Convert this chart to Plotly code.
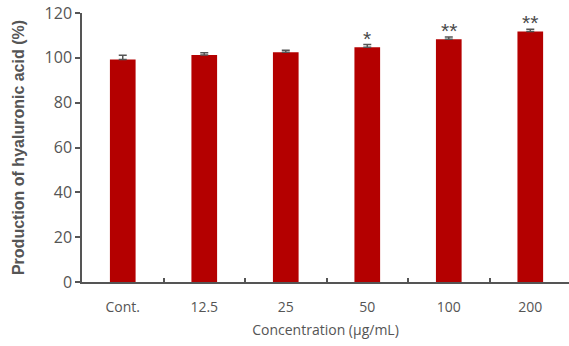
import plotly.graph_objects as go

categories = ["Cont.", "12.5", "25", "50", "100", "200"]
values = [99.3, 101.3, 102.5, 104.7, 108.3, 111.7]
errors = [1.8, 1.0, 0.9, 1.2, 1.0, 1.0]
significance = ["", "", "", "*", "**", "**"]
y_ticks = [0, 20, 40, 60, 80, 100, 120]

BAR = "#b40000"
GREY = "#555555"

fig = go.Figure()
fig.add_trace(go.Bar(
    x=categories, y=values, width=0.315,
    marker=dict(color=BAR, line=dict(width=0)),
    error_y=dict(type="data", symmetric=False, array=errors,
                 arrayminus=[0] * len(errors),
                 color=GREY, thickness=1.5, width=4),
))

for i, (v, e, s) in enumerate(zip(values, errors, significance)):
    if s:
        fig.add_annotation(x=i, y=v + e, yref="y", xref="x", text=s,
                           showarrow=False, yanchor="bottom", yshift=-7,
                           font=dict(family="Liberation Sans", size=21, color="#4a4a4a"))

fig.update_layout(
    width=569, height=346,
    margin=dict(l=82, r=0, t=13, b=64, autoexpand=False),
    plot_bgcolor="white", paper_bgcolor="white",
    showlegend=False,
    bargap=0.6,
)
fig.update_xaxes(
    type="category",
    range=[-0.5, 5.475],
    showline=True, linecolor=GREY, linewidth=1.5,
    ticks="inside", tickson="boundaries", ticklen=4, tickcolor=GREY, tickwidth=1.5,
    tickfont=dict(family="Open Sans", size=14, color=GREY),
    ticklabelstandoff=11,
    title=dict(text="Concentration (μg/mL)", standoff=11,
               font=dict(family="Open Sans", size=14, color=GREY)),
    showgrid=False,
)
fig.update_yaxes(
    range=[0, 120], tickvals=y_ticks,
    showline=True, linecolor=GREY, linewidth=1.5,
    ticks="outside", ticklen=5, tickcolor=GREY, tickwidth=1.5,
    tickfont=dict(family="Open Sans", size=16, color=GREY),
    title=dict(text="<b>Production of hyaluronic acid (%)</b>", standoff=16,
               font=dict(family="Liberation Sans", size=16, color=GREY)),
    showgrid=False, zeroline=False,
)

fig.write_html("out.html", config={"displayModeBar": False},
               post_script="document.body.style.margin='0';")
